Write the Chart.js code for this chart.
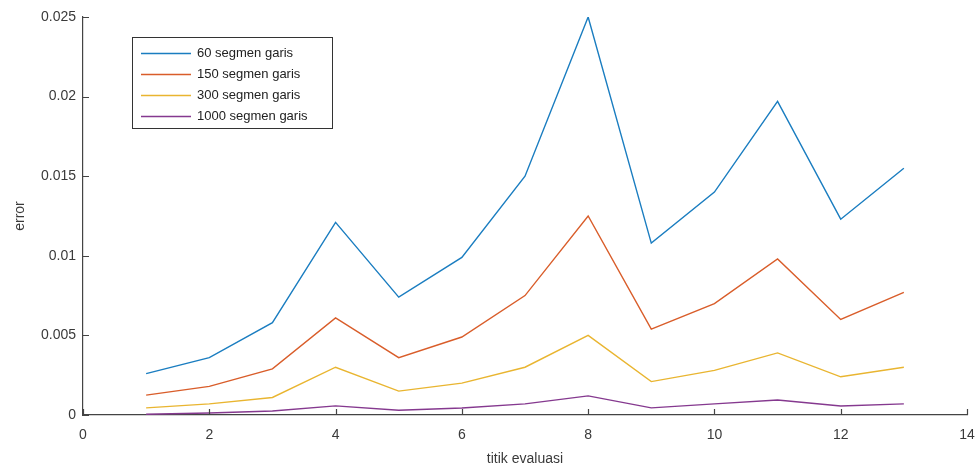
<!DOCTYPE html>
<html>
<head>
<meta charset="utf-8">
<script src="https://cdn.jsdelivr.net/npm/chart.js@4/dist/chart.umd.min.js"></script>
<style>
  html, body { margin: 0; padding: 0; background: #fff; }
  #wrap { width: 979px; height: 468px; position: relative; }
</style>
</head>
<body>
<div id="wrap"><canvas id="c"></canvas></div>
<script>
// ---- data ----
const evalPoints = [1, 2, 3, 4, 5, 6, 7, 8, 9, 10, 11, 12, 13];
const seriesLabels = ["60 segmen garis", "150 segmen garis", "300 segmen garis", "1000 segmen garis"];
const err60   = [0.0026, 0.0036, 0.0058, 0.0121, 0.0074, 0.0099, 0.0150, 0.0250, 0.0108, 0.0140, 0.0197, 0.0123, 0.0155];
const err150  = [0.00125, 0.0018, 0.0029, 0.0061, 0.0036, 0.0049, 0.0075, 0.0125, 0.0054, 0.0070, 0.0098, 0.0060, 0.0077];
const err300  = [0.00045, 0.0007, 0.0011, 0.0030, 0.0015, 0.0020, 0.0030, 0.0050, 0.0021, 0.0028, 0.0039, 0.0024, 0.0030];
const err1000 = [0.00005, 0.00013, 0.00025, 0.00057, 0.0003, 0.00044, 0.0007, 0.0012, 0.00045, 0.0007, 0.00094, 0.00057, 0.0007];
const xTicks = [0, 2, 4, 6, 8, 10, 12, 14];
const yTicks = [0, 0.005, 0.01, 0.015, 0.02, 0.025];
const xTitle = "titik evaluasi";
const yTitle = "error";

const colors = ["#1a7dc0", "#d95d2a", "#e9b530", "#85398f"];
const allSeries = [err60, err150, err300, err1000];

const datasets = allSeries.map((arr, i) => ({
  label: seriesLabels[i],
  data: evalPoints.map((x, j) => ({ x: x, y: arr[j] })),
  borderColor: colors[i],
  backgroundColor: colors[i],
  borderWidth: 1.4,
  pointRadius: 0,
  tension: 0,
  fill: false
}));

const FONT = "'Liberation Sans', Arial, sans-serif";
const AXIS = "#444";
const TXT = "#3a3a3a";

const inwardTicks = {
  id: 'inwardTicks',
  afterDraw(chart) {
    const ctx = chart.ctx;
    const xs = chart.scales.x, ys = chart.scales.y;
    const ca = chart.chartArea;
    ctx.save();
    ctx.strokeStyle = AXIS;
    ctx.lineWidth = 1.2;
    ctx.beginPath();
    xTicks.forEach(v => {
      const px = Math.round(xs.getPixelForValue(v)) + 0.5;
      ctx.moveTo(px, ca.bottom);
      ctx.lineTo(px, ca.bottom - 6);
    });
    yTicks.forEach(v => {
      const py = Math.round(ys.getPixelForValue(v)) + 0.5;
      ctx.moveTo(ca.left, py);
      ctx.lineTo(ca.left + 6, py);
    });
    ctx.stroke();
    ctx.restore();
  }
};

const boxLegend = {
  id: 'boxLegend',
  afterDraw(chart) {
    const ctx = chart.ctx;
    const bx = 132, by = 37, bw = 200, bh = 91;
    ctx.save();
    ctx.fillStyle = "#fff";
    ctx.fillRect(bx, by, bw, bh);
    ctx.strokeStyle = "#333";
    ctx.lineWidth = 1;
    ctx.strokeRect(bx + 0.5, by + 0.5, bw, bh);
    ctx.font = "13px " + FONT;
    ctx.textBaseline = "middle";
    ctx.textAlign = "left";
    chart.data.datasets.forEach((ds, i) => {
      const cy = by + 16 + i * 21;
      ctx.strokeStyle = ds.borderColor;
      ctx.lineWidth = 1.4;
      ctx.beginPath();
      ctx.moveTo(141, cy + 0.5);
      ctx.lineTo(191, cy + 0.5);
      ctx.stroke();
      ctx.fillStyle = "#222";
      ctx.fillText(ds.label, 197, cy);
    });
    ctx.restore();
  }
};

new Chart(document.getElementById('c'), {
  type: 'line',
  data: { datasets: datasets },
  options: {
    responsive: true,
    maintainAspectRatio: false,
    animation: false,
    layout: { padding: { top: 17, right: 12, left: 0, bottom: 0 } },
    plugins: {
      legend: { display: false },
      tooltip: { enabled: false }
    },
    scales: {
      x: {
        type: 'linear',
        min: 0, max: 14,
        afterFit(scale) { scale.height = 53; scale.paddingRight = 0; scale.paddingLeft = 0; },
        afterBuildTicks(scale) { scale.ticks = xTicks.map(v => ({ value: v })); },
        grid: { display: false, drawTicks: false, tickLength: 0 },
        border: { display: true, color: AXIS, width: 1.2 },
        ticks: { color: TXT, font: { family: FONT, size: 14 }, padding: 12, maxRotation: 0 },
        title: { display: true, text: xTitle, color: TXT, font: { family: FONT, size: 14 }, padding: { top: 0, bottom: 0 } }
      },
      y: {
        type: 'linear',
        min: 0, max: 0.025,
        afterFit(scale) { scale.width = 83; scale.paddingTop = 0; scale.paddingBottom = 0; },
        afterBuildTicks(scale) { scale.ticks = yTicks.map(v => ({ value: v })); },
        grid: { display: false, drawTicks: false, tickLength: 0 },
        border: { display: true, color: AXIS, width: 1.2 },
        ticks: {
          color: TXT, font: { family: FONT, size: 14 }, padding: 7,
          callback: v => String(Math.round(v * 1000) / 1000)
        },
        title: { display: true, text: yTitle, color: TXT, font: { family: FONT, size: 14 }, padding: { top: 12, bottom: 0 } }
      }
    }
  },
  plugins: [inwardTicks, boxLegend]
});
</script>
</body>
</html>
